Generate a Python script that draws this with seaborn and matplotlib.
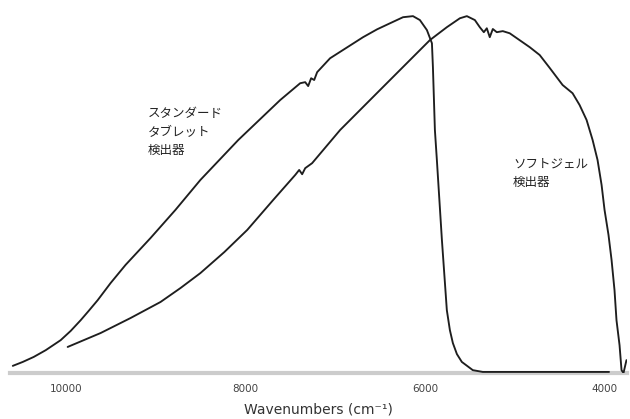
import numpy as np
import pandas as pd
import seaborn as sns
import matplotlib.pyplot as plt

# Standard tablet detector (wavenumber cm-1, relative signal %)
std_wn = [10589, 10478, 10356, 10222, 10056, 9944, 9833, 9744, 9644, 9500,
          9333, 9056, 8778, 8500, 8078, 7611, 7389, 7333, 7300, 7267,
          7233, 7200, 7056, 6689, 6533, 6389, 6244, 6133, 6056, 5978,
          5922, 5911, 5889, 5867, 5811, 5756, 5722, 5689, 5644, 5589,
          5467, 5356, 3950]
std_sig = [2.0, 3.1, 4.5, 6.4, 9.2, 11.8, 14.8, 17.4, 20.4, 25.2,
           30.3, 37.8, 45.7, 54.1, 65.3, 76.5, 81.2, 81.5, 80.4, 82.6,
           82.1, 84.3, 88.2, 94.1, 96.3, 98.0, 99.7, 100.0, 98.9, 96.1,
           92.4, 85.7, 68.1, 59.7, 37.3, 17.6, 12.0, 8.4, 5.3, 3.1,
           0.8, 0.3, 0.3]

# Soft gel detector
gel_wn = [9978, 9611, 9278, 8944, 8722, 8500, 8233, 7978, 7689, 7444,
          7400, 7367, 7333, 7256, 6944, 6500, 5944, 5756, 5611, 5533,
          5444, 5389, 5344, 5311, 5278, 5244, 5200, 5133, 5056, 4833,
          4722, 4611, 4467, 4356, 4278, 4200, 4133, 4078, 4033, 4000,
          3956, 3922, 3889, 3867, 3833, 3811, 3789, 3756]
gel_sig = [7.3, 11.2, 15.4, 19.9, 23.8, 28.0, 33.9, 40.1, 48.5, 55.5,
           56.9, 55.7, 57.4, 58.8, 68.1, 79.3, 93.3, 96.9, 99.4, 100.0,
           98.9, 96.9, 95.5, 96.6, 94.1, 96.4, 95.5, 95.8, 95.2, 91.3,
           89.1, 85.5, 80.7, 78.4, 75.1, 70.9, 65.3, 59.7, 52.7, 45.7,
           38.7, 31.7, 23.2, 14.8, 7.8, 0.8, 0.0, 3.6]

tick_values = [10000, 8000, 6000, 4000]
std_label = "スタンダード\nタブレット\n検出器"
gel_label = "ソフトジェル\n検出器"

sns.set_style("white")
plt.rcParams['font.family'] = ['DejaVu Sans']

fig = plt.figure(figsize=(6.3, 4.19), dpi=100)
ax = fig.add_axes([10 / 630, 1 - 373 / 419, 617 / 630, 364 / 419])

sns.lineplot(x=std_wn, y=std_sig, sort=False, color='#1e1e1e', lw=1.35, ax=ax, zorder=3)
sns.lineplot(x=gel_wn, y=gel_sig, sort=False, color='#1e1e1e', lw=1.35, ax=ax, zorder=3)

ax.set_xlim(10620, 3750)
ax.set_ylim(0, 102)

for s in ['top', 'left', 'right']:
    ax.spines[s].set_visible(False)
ax.spines['bottom'].set_color('#cccccc')
ax.spines['bottom'].set_linewidth(3)
ax.spines['bottom'].set_zorder(1)

ax.set_yticks([])
ax.set_xticks(tick_values)
ax.set_xticklabels([str(t) for t in tick_values])
ax.tick_params(axis='x', length=0, pad=8, labelsize=7.5, labelcolor='#444444')
ax.set_xlabel("Wavenumbers (cm⁻¹)", fontsize=10, color='#333333', labelpad=6)

jp = ['Noto Sans CJK JP', 'DejaVu Sans']
ax.text(9085, 74.5, std_label, fontsize=9, family=jp, color='#222222',
        va='top', ha='left', linespacing=1.55)
ax.text(5018, 60.5, gel_label, fontsize=9, family=jp, color='#222222',
        va='top', ha='left', linespacing=1.55)

plt.savefig('out.png', dpi=100)
